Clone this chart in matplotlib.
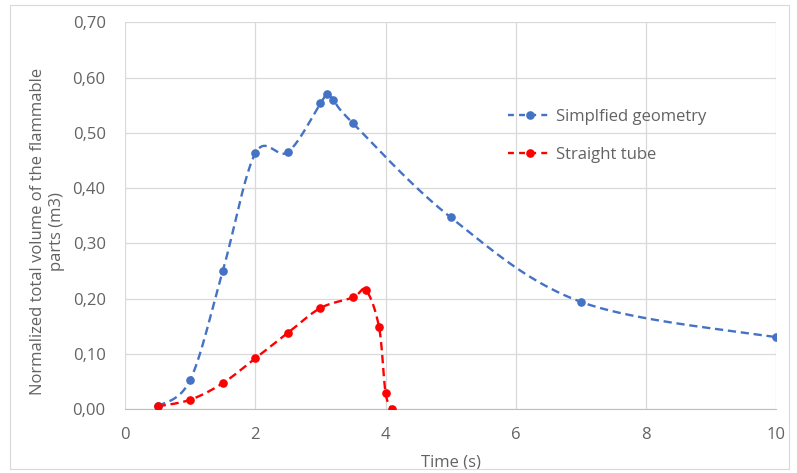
import numpy as np
import matplotlib
matplotlib.use("Agg")
import matplotlib.pyplot as plt
from matplotlib.patches import Rectangle
from matplotlib.ticker import FuncFormatter, MultipleLocator

# data
t_geom = [0.5, 1.0, 1.5, 2.0, 2.5, 3.0, 3.1, 3.2, 3.5, 5.0, 7.0, 10.0]
v_geom = [0.005, 0.053, 0.250, 0.463, 0.465, 0.553, 0.571, 0.559, 0.517, 0.347, 0.194, 0.130]

t_tube = [0.5, 1.0, 1.5, 2.0, 2.5, 3.0, 3.5, 3.7, 3.9, 4.0, 4.1]
v_tube = [0.005, 0.017, 0.047, 0.092, 0.138, 0.183, 0.202, 0.215, 0.148, 0.029, 0.0]

labels = ["Simplfied geometry", "Straight tube"]
colors = ["#4472C4", "#FF0000"]


def smooth(x, y, n=40):
    # Excel-like smoothed line: cubic bezier through the points (Catmull-Rom tangents)
    x = np.asarray(x, float)
    y = np.asarray(y, float)
    P = np.column_stack([x, y])
    out = [P[:1]]
    s = np.linspace(0, 1, n)[1:, None]
    for i in range(len(P) - 1):
        p0 = P[i - 1] if i > 0 else P[i]
        p3 = P[i + 2] if i + 2 < len(P) else P[i + 1]
        c1 = P[i] + (P[i + 1] - p0) / 6.0
        c2 = P[i + 1] - (p3 - P[i]) / 6.0
        seg = ((1 - s) ** 3) * P[i] + 3 * ((1 - s) ** 2) * s * c1 \
            + 3 * (1 - s) * s ** 2 * c2 + s ** 3 * P[i + 1]
        out.append(seg)
    out = np.vstack(out)
    return out[:, 0], out[:, 1]


plt.rcParams["font.family"] = ["Open Sans", "DejaVu Sans"]
gray = "#636363"
fs = 12

fig = plt.figure(figsize=(7.97, 4.73), dpi=100)
ax = fig.add_axes([0.157, 0.135, 0.817, 0.818])

fig.patches.append(Rectangle((0.012, 0.008), 0.978, 0.982, transform=fig.transFigure,
                             fill=False, edgecolor="#d9d9d9", lw=0.8))

dash = (0, (3.5, 2))
for tx, vy, lab, c in [(t_geom, v_geom, labels[0], colors[0]),
                       (t_tube, v_tube, labels[1], colors[1])]:
    sx, sy = smooth(tx, vy)
    ax.plot(sx, sy, color=c, lw=1.7, linestyle=dash, zorder=3)
    ax.plot(tx, vy, "o", color=c, ms=5.2, zorder=4)
    ax.plot([], [], color=c, lw=1.7, linestyle=(0, (2.5, 2.2)), marker="o", ms=5.2, label=lab)

ax.set_xlim(0, 10)
ax.set_ylim(0, 0.70)
ax.xaxis.set_major_locator(MultipleLocator(2))
ax.yaxis.set_major_locator(MultipleLocator(0.1))
ax.yaxis.set_major_formatter(FuncFormatter(lambda v, p: ("%.2f" % v).replace(".", ",")))
ax.xaxis.set_major_formatter(FuncFormatter(lambda v, p: "%d" % round(v)))

ax.grid(True, color="#d9d9d9", lw=0.9)
ax.set_axisbelow(True)
for s in ["top", "right", "left"]:
    ax.spines[s].set_visible(False)
ax.spines["bottom"].set_color("#bfbfbf")
ax.tick_params(length=0, labelsize=fs, colors=gray)
ax.tick_params(axis="x", pad=13)
ax.tick_params(axis="y", pad=14)

ax.set_xlabel("Time (s)", fontsize=fs, color=gray, labelpad=8)
ax.set_ylabel("Normalized total volume of the flammable\nparts (m3)", fontsize=fs,
              color=gray, linespacing=1.2)
ax.yaxis.set_label_coords(-0.093, 0.46)

leg = ax.legend(loc="upper left", bbox_to_anchor=(0.565, 0.815), frameon=False,
                fontsize=fs, labelspacing=1.35, handlelength=2.6, handletextpad=0.25)
for txt in leg.get_texts():
    txt.set_color(gray)

fig.savefig("out.png", dpi=100)
